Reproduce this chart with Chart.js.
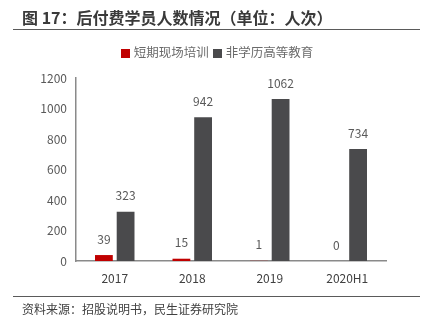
<!DOCTYPE html>
<html>
<head>
<meta charset="utf-8">
<script src="https://cdn.jsdelivr.net/npm/chart.js@4"></script>
<style>
  body { margin: 0; background: #fff; }
  #wrap { position: relative; width: 426px; height: 326px; font-family: "Noto Sans CJK SC", sans-serif; }
  #title { position: absolute; left: 22px; top: 5px; font-size: 16px; font-weight: bold; color: #3a3a3a; white-space: nowrap; }
  .rule { position: absolute; left: 13px; width: 407px; height: 0; border-top: 1.5px solid #5a5a5a; }
  #legend { position: absolute; top: 42px; left: 0; width: 434px; text-align: center; font-size: 12.5px; color: #6a6a6a; white-space: nowrap; }
  #legend span.box { display: inline-block; width: 9px; height: 9px; margin-right: 4px; vertical-align: -1px; }
  #legend span.item { margin: 0 2px; }
  #source { position: absolute; left: 22px; top: 300px; font-size: 12px; color: #404040; white-space: nowrap; }
  canvas { position: absolute; left: 0; top: 0; }
</style>
</head>
<body>
<div id="wrap">
  <canvas id="c" width="426" height="326"></canvas>
  <div id="title">图 17：后付费学员人数情况（单位：人次）</div>
  <div class="rule" style="top:29px"></div>
  <div id="legend"></div>
  <div class="rule" style="top:296px"></div>
  <div id="source">资料来源：招股说明书，民生证券研究院</div>
</div>
<script>
// chart data
var categories = ['2017', '2018', '2019', '2020H1'];
var shortTraining = [39, 15, 1, 0];
var nonDegree = [323, 942, 1062, 734];
var seriesNames = ['短期现场培训', '非学历高等教育'];
var yTicks = [0, 200, 400, 600, 800, 1000, 1200];

var colors = ['#c00000', '#4a4a4c'];

// simple html legend
var legend = document.getElementById('legend');
seriesNames.forEach(function (name, i) {
  legend.innerHTML += '<span class="item"><span class="box" style="background:' + colors[i] + '"></span>' + name + '</span>';
});

// draw the value above each bar
var valueLabels = {
  id: 'valueLabels',
  afterDatasetsDraw: function (chart) {
    var ctx = chart.ctx;
    ctx.save();
    ctx.font = '12px "Noto Sans CJK SC", sans-serif';
    ctx.fillStyle = '#595959';
    ctx.textAlign = 'center';
    ctx.textBaseline = 'middle';
    chart.data.datasets.forEach(function (ds, i) {
      chart.getDatasetMeta(i).data.forEach(function (bar, j) {
        ctx.fillText(ds.data[j], bar.x, bar.y - 16);
      });
    });
    ctx.restore();
  }
};

new Chart(document.getElementById('c'), {
  type: 'bar',
  data: {
    labels: categories,
    datasets: [
      { label: seriesNames[0], data: shortTraining, backgroundColor: colors[0] },
      { label: seriesNames[1], data: nonDegree, backgroundColor: colors[1] }
    ]
  },
  options: {
    responsive: false,
    animation: false,
    layout: { padding: { top: 78, right: 40, left: 0, bottom: 0 } },
    categoryPercentage: 0.56,
    barPercentage: 0.82,
    plugins: { legend: { display: false }, tooltip: { enabled: false } },
    scales: {
      x: {
        grid: { display: false, drawTicks: false },
        border: { color: '#8a8a8a', width: 1.5 },
        ticks: { color: '#404040', padding: 10, font: { size: 12, family: '"Noto Sans CJK SC", sans-serif' } },
        afterFit: function (s) { s.height = 65; }
      },
      y: {
        min: 0, max: 1200,
        grid: { display: false, drawTicks: false },
        border: { color: '#8a8a8a', width: 1.5 },
        afterBuildTicks: function (s) { s.ticks = yTicks.map(function (v) { return { value: v }; }); },
        ticks: {
          color: '#595959', padding: 9, font: { size: 12, family: '"Noto Sans CJK SC", sans-serif' },
          callback: function (v) { return String(v); }
        },
        afterFit: function (s) { s.width = 76; }
      }
    }
  },
  plugins: [valueLabels]
});
</script>
</body>
</html>
